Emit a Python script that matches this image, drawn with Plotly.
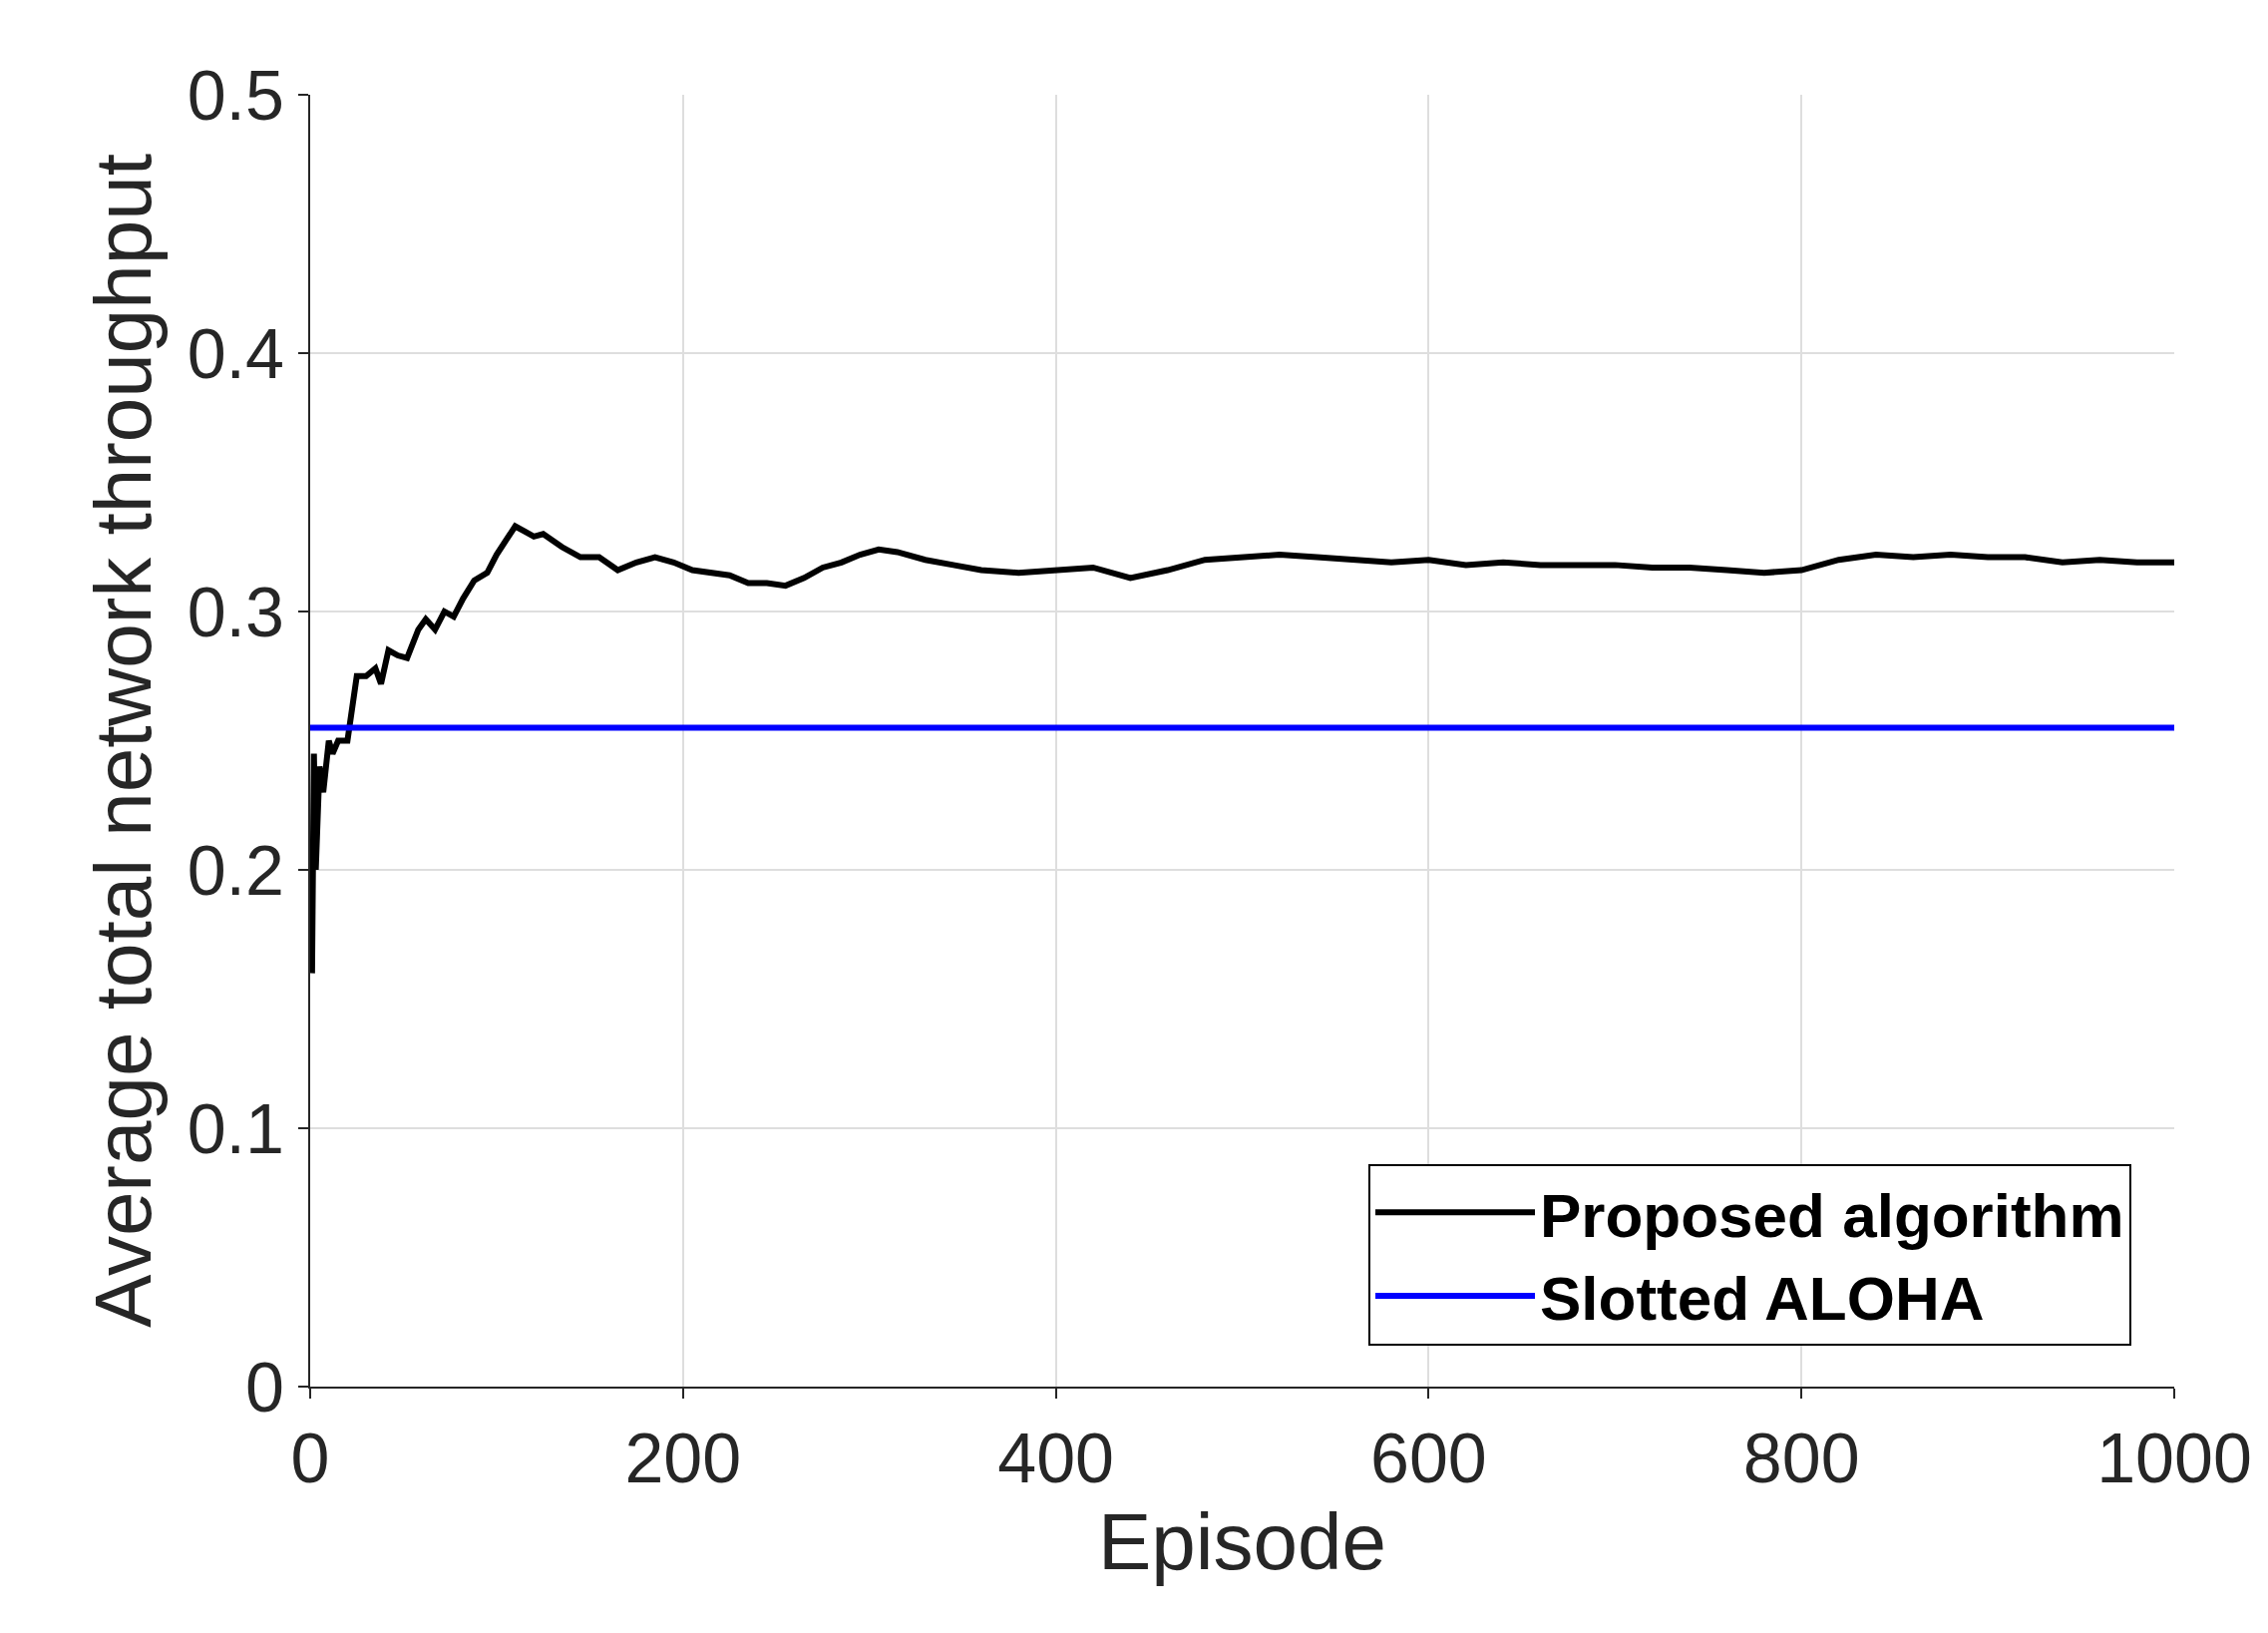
import plotly.graph_objects as go

episodes = [1,2,3,5,7,10,12,15,20,25,30,35,38,42,47,52,58,62,67,72,77,82,88,95,100,105,110,115,120,125,135,145,155,165,175,185,195,205,215,225,235,245,255,265,275,285,295,305,315,330,345,360,380,400,420,440,460,480,500,520,540,560,580,600,620,640,660,680,700,720,740,760,780,800,820,840,860,880,900,920,940,960,980,1000]
proposed = [0.16,0.245,0.2,0.24,0.23,0.25,0.245,0.25,0.25,0.275,0.275,0.278,0.272,0.285,0.283,0.282,0.293,0.297,0.293,0.3,0.298,0.305,0.312,0.315,0.322,0.328,0.333,0.331,0.329,0.330,0.325,0.321,0.321,0.316,0.319,0.321,0.319,0.316,0.315,0.314,0.311,0.311,0.310,0.313,0.317,0.319,0.322,0.324,0.323,0.320,0.318,0.316,0.315,0.316,0.317,0.313,0.316,0.320,0.321,0.322,0.321,0.320,0.319,0.320,0.318,0.319,0.318,0.318,0.318,0.317,0.317,0.316,0.315,0.316,0.320,0.322,0.321,0.322,0.321,0.321,0.319,0.320,0.319,0.319]
aloha_x = [0, 1000]
aloha_y = [0.255, 0.255]

fig = go.Figure()
fig.add_trace(go.Scatter(x=episodes, y=proposed, mode="lines", name="<b>Proposed algorithm</b>",
                         line=dict(color="black", width=6)))
fig.add_trace(go.Scatter(x=aloha_x, y=aloha_y, mode="lines", name="<b>Slotted ALOHA</b>",
                         line=dict(color="#0000ff", width=6)))
axis_common = dict(showgrid=True, gridcolor="#dedede", gridwidth=2, showline=True, linecolor="#262626",
                   linewidth=2, mirror=False, ticks="outside", ticklen=10, tickwidth=2, tickcolor="#262626",
                   zeroline=False, tickfont=dict(size=70, color="#262626", family="Liberation Sans"))
fig.update_xaxes(range=[0, 1000], dtick=200, title=dict(text="Episode", font=dict(size=80, color="#262626", family="Liberation Sans"), standoff=15), **axis_common)
fig.update_yaxes(range=[0, 0.5],
                 title=dict(text="Average total network throughput", font=dict(size=80, color="#262626", family="Liberation Sans"), standoff=10), **axis_common)
fig.update_yaxes(tickvals=[0,0.1,0.2,0.3,0.4,0.5], ticktext=["0","0.1","0.2","0.3","0.4","0.5"])
fig.update_layout(width=2274, height=1637, plot_bgcolor="white", paper_bgcolor="white",
                  margin=dict(l=303, r=102, t=87, b=255),
                  legend=dict(x=0.977, y=0.032, xanchor="right", yanchor="bottom", bgcolor="white",
                              bordercolor="black", borderwidth=2,
                              font=dict(size=62, color="black", family="Liberation Sans"),
                              itemwidth=160))
fig.write_html("out.html")
